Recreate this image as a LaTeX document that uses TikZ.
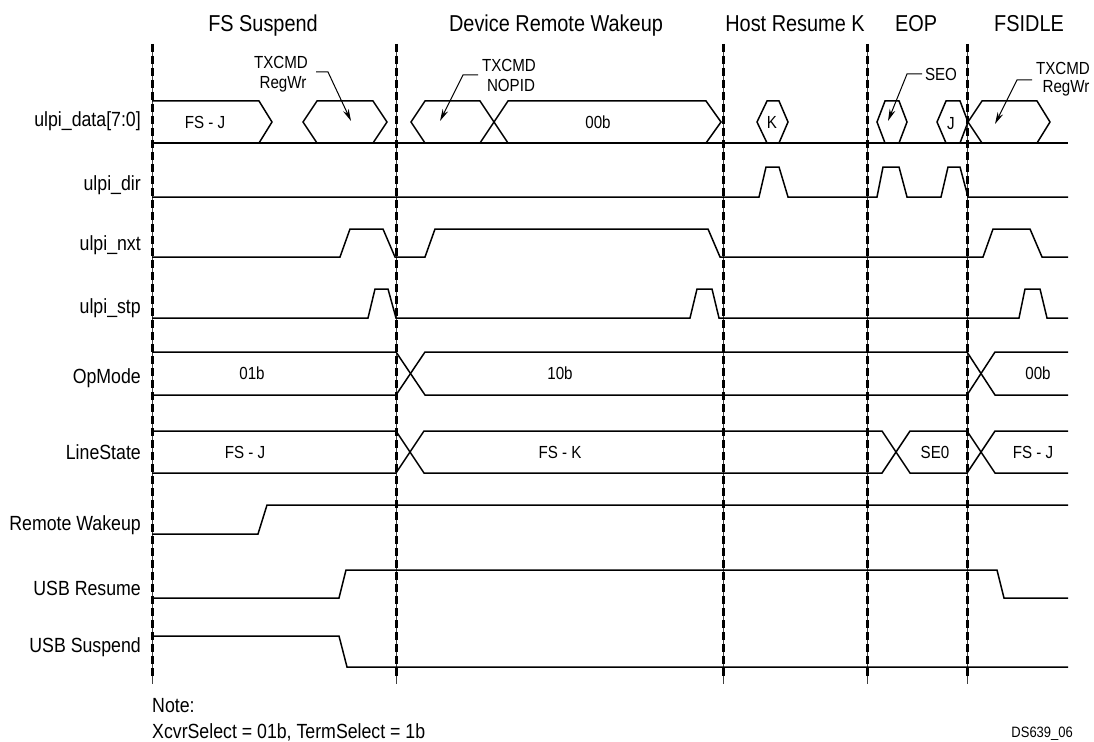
\documentclass[tikz,border=0pt]{standalone}
\usepackage{fontspec}
\setmainfont{Liberation Sans}[FakeStretch=0.865]
\usetikzlibrary{arrows.meta}
\begin{document}
\begin{tikzpicture}[x=1pt,y=-1pt,
  sig/.style={line width=1.5pt, line join=miter},
  ttl/.style={font=\fontsize{23}{25}\selectfont, inner sep=0pt, anchor=base},
  nm/.style={font=\fontsize{20.5}{22}\selectfont, inner sep=0pt, anchor=base east},
  clbl/.style={font=\fontsize{17.5}{19}\selectfont, inner sep=0pt, anchor=base},
  lead/.style={line width=1pt, -{Stealth[length=12pt,width=6pt]}},
  vthin/.style={line width=0.7pt, black!75},
  vdash/.style={line width=3pt, dash pattern=on 8pt off 4pt}]
\useasboundingbox (0,0) rectangle (1094,741);
% phase titles
\node[ttl] (t1) at (263,32) {FS Suspend};
\node[ttl] (t2) at (556,32) {Device Remote Wakeup};
\node[ttl] (t3) at (795,32) {Host Resume K};
\node[ttl] (t4) at (916,32) {EOP};
\node[ttl] (t5) at (1029,32) {FSIDLE};
% vertical markers
\foreach \x in {152,396,723,867,967} {
  \draw[vthin] (\x,44) -- (\x,684);
  \draw[vdash] (\x,44) -- (\x,678);
}
% signal names
\node[nm] (n1) at (141,127) {ulpi\_data[7:0]};
\node[nm] (n2) at (141,190) {ulpi\_dir};
\node[nm] (n3) at (141,250) {ulpi\_nxt};
\node[nm] (n4) at (141,313) {ulpi\_stp};
\node[nm] (n5) at (141,383) {OpMode};
\node[nm] (n6) at (141,459) {LineState};
\node[nm] (n7) at (141,530) {Remote Wakeup};
\node[nm] (n8) at (141,595) {USB Resume};
\node[nm] (n9) at (141,652) {USB Suspend};
% ulpi_data
\draw[sig] (152,143) -- (1068,143);
\draw[sig] (152,101) -- (259,101) -- (272,122) -- (259,143);
\draw[sig] (317,143) -- (303,122) -- (317,101) -- (373,101) -- (387,122) -- (373,143);
\draw[sig] (425,143) -- (411,122) -- (425,101) -- (480,101) -- (508,143);
\draw[sig] (480,143) -- (508,101) -- (706,101) -- (721,122) -- (706,143);
\draw[sig] (767,143) -- (757,122) -- (767,101) -- (779,101) -- (788,122) -- (779,143);
\draw[sig] (885,143) -- (877,122) -- (885,101) -- (899,101) -- (907,122) -- (899,143);
\draw[sig] (946,143) -- (937,122) -- (946,101) -- (960,101) -- (968,122) -- (960,143);
\draw[sig] (982,143) -- (968,122) -- (982,101) -- (1037,101) -- (1050,122) -- (1037,143);
\node[clbl] (d1) at (205,128.5) {FS - J};
\node[clbl] (d2) at (598,128.5) {00b};
\node[clbl] (d3) at (772,128.5) {K};
\node[clbl] (d4) at (951,129) {J};
% leaders
\node[clbl] (a1) at (281,69) {TXCMD};
\node[clbl] (a1b) at (283,89) {RegWr};
\coordinate (a1s) at (316,72);
\coordinate (a1k) at (328,72);
\coordinate (a1t) at (351,121);
\draw[lead] (a1s) -- (a1k) -- (a1t);
\node[clbl] (a2) at (509,72) {TXCMD};
\node[clbl] (a2b) at (511,92) {NOPID};
\coordinate (a2s) at (478,75);
\coordinate (a2k) at (463,75);
\coordinate (a2t) at (440,121);
\draw[lead] (a2s) -- (a2k) -- (a2t);
\node[clbl] (a3) at (941,81) {SEO};
\coordinate (a3s) at (922,74);
\coordinate (a3k) at (907,74);
\coordinate (a3t) at (888,121);
\draw[lead] (a3s) -- (a3k) -- (a3t);
\node[clbl] (a4) at (1063,75) {TXCMD};
\node[clbl] (a4b) at (1066,93) {RegWr};
\coordinate (a4s) at (1032,80);
\coordinate (a4k) at (1017,80);
\coordinate (a4t) at (995,124);
\draw[lead] (a4s) -- (a4k) -- (a4t);
% ulpi_dir
\draw[sig] (152,197) -- (759,197) -- (766,167) -- (779,167) -- (788,197) -- (877,197) -- (883,167) -- (899,167) -- (907,197) -- (941,197) -- (948,167) -- (960,167) -- (968,197) -- (1068,197);
% ulpi_nxt
\draw[sig] (152,257) -- (340,257) -- (350,229) -- (383,229) -- (395,257) -- (425,257) -- (435,229) -- (708,229) -- (720,257) -- (983,257) -- (993,229) -- (1030,229) -- (1042,257) -- (1068,257);
% ulpi_stp
\draw[sig] (152,318) -- (368,318) -- (375,289) -- (388,289) -- (396,318) -- (690,318) -- (697,289) -- (712,289) -- (719,318) -- (1019,318) -- (1025,289) -- (1040,289) -- (1047,318) -- (1068,318);
% OpMode
\draw[sig] (152,352) -- (396,352) -- (425,395) -- (967,395) -- (995,352) -- (1068,352);
\draw[sig] (152,395) -- (396,395) -- (425,352) -- (967,352) -- (995,395) -- (1068,395);
\node[clbl] (o1) at (252,379.5) {01b};
\node[clbl] (o2) at (560,379.5) {10b};
\node[clbl] (o3) at (1038,379.5) {00b};
% LineState
\draw[sig] (152,431) -- (396,431) -- (424,473) -- (882,473) -- (910,431) -- (967,431) -- (995,473) -- (1068,473);
\draw[sig] (152,473) -- (396,473) -- (424,431) -- (882,431) -- (910,473) -- (967,473) -- (995,431) -- (1068,431);
\node[clbl] (l1) at (245,458.5) {FS - J};
\node[clbl] (l2) at (560,458.5) {FS - K};
\node[clbl] (l3) at (935,458.5) {SE0};
\node[clbl] (l4) at (1033,458.5) {FS - J};
% Remote Wakeup
\draw[sig] (152,534) -- (258,534) -- (267,505) -- (1068,505);
% USB Resume
\draw[sig] (152,598) -- (339,598) -- (346,570) -- (997,570) -- (1004,598) -- (1068,598);
% USB Suspend
\draw[sig] (152,636) -- (339,636) -- (347,667) -- (1068,667);
% notes
\node[nm, anchor=base west] (nt1) at (152,712) {Note:};
\node[nm, anchor=base west] (nt2) at (152,738) {XcvrSelect = 01b, TermSelect = 1b};
\node[font=\fontsize{15}{17}\selectfont, inner sep=0pt, anchor=base east] (ds) at (1073,737) {DS639\_06};
\end{tikzpicture}
\end{document}
